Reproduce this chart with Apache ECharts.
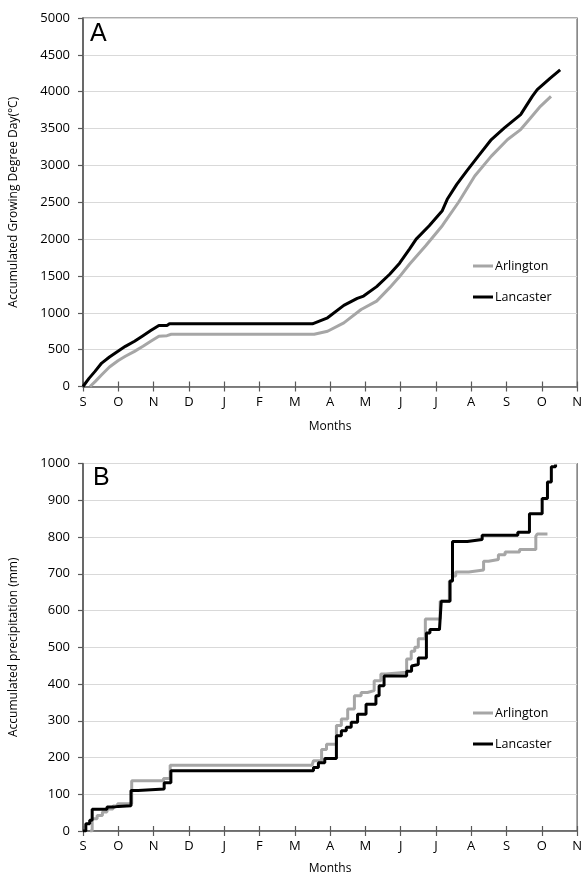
<!DOCTYPE html>
<html>
<head>
<meta charset="utf-8">
<script src="https://cdn.jsdelivr.net/npm/echarts@6/dist/echarts.min.js"></script>
<style>
html,body{margin:0;padding:0;background:#fff;}
#chart{width:585px;height:876px;}
</style>
</head>
<body>
<div id="chart"></div>
<script>
// Month tick labels (Sept .. Nov of following year), x values are months since Sept 1
const monthLabels = ['S','O','N','D','J','F','M','A','M','J','J','A','S','O','N'];

// Panel A: accumulated growing degree day (°C) [month, value]
const gddArlington = [
  [0.20,0],[0.35,70],[0.53,159],[0.75,265],[0.99,350],[1.2,410],[1.46,477],[1.7,545],[1.92,614],
  [2.15,682],[2.38,690],[2.5,709],[6.55,709],[6.93,750],[7.39,864],[7.88,1045],[8.32,1159],
  [8.69,1341],[8.97,1491],[9.25,1659],[9.71,1909],[10.18,2182],[10.64,2500],[11.1,2856],
  [11.57,3126],[12.03,3351],[12.4,3486],[12.68,3644],[12.96,3802],[13.26,3937]
];
const gddLancaster = [
  [0,0],[0.17,110],[0.34,205],[0.53,318],[0.75,400],[0.99,477],[1.2,545],[1.46,614],[1.7,690],
  [1.92,759],[2.15,827],[2.38,827],[2.45,850],[6.5,850],[6.93,932],[7.39,1100],[7.77,1195],
  [7.95,1227],[8.32,1355],[8.69,1523],[8.97,1673],[9.25,1864],[9.44,2000],[9.81,2182],
  [10.18,2386],[10.32,2540],[10.59,2743],[10.87,2923],[11.2,3126],[11.57,3351],[11.94,3509],
  [12.4,3689],[12.73,3937],[12.87,4027],[13.24,4185],[13.52,4297]
];

// Panel B: accumulated precipitation (mm), step points [month, value after jump]
const precipArlington = [
  [0.20,0],[0.26,33],[0.4,42],[0.55,52],[0.68,60],[0.85,68],[0.98,74],[1.38,137],[2.28,143],[2.47,179],
  [6.49,178],[6.53,191],[6.76,222],[6.9,236],[7.18,287],[7.32,305],[7.5,332],[7.69,368],[7.88,377],
  [8.06,382],[8.25,409],[8.44,427],[8.58,432],[9.17,468],[9.3,489],[9.4,500],[9.5,523],[9.7,577],
  [10.12,625],[10.38,680],[10.47,694],[10.56,705],[10.93,710],[11.35,734],[11.49,739],[11.77,752],
  [11.96,759],[12.37,766],[12.83,802],[12.87,808],[13.16,808]
];
const precipLancaster = [
  [0,0],[0.08,20],[0.19,29],[0.26,59],[0.68,65],[0.87,67],[1.0,69],[1.36,110],[1.56,114],[2.3,131],
  [2.49,164],[6.53,173],[6.67,186],[6.85,197],[7.18,259],[7.32,273],[7.46,282],[7.6,296],[7.78,318],
  [8.02,345],[8.3,368],[8.39,395],[8.53,422],[9.17,435],[9.31,449],[9.36,453],[9.5,471],[9.73,539],
  [9.83,548],[10.1,553],[10.15,625],[10.4,680],[10.47,788],[10.89,793],[11.31,805],[12.32,813],
  [12.65,863],[13.01,905],[13.16,950],[13.27,991],[13.39,997]
];

const FONT = 'Open Sans';
const GRAY = '#a6a6a6';
const BLACK = '#000000';
const AXIS = '#595959';

function xAxes(gridIndex, nameGap) {
  return [
    {
      gridIndex, type:'value', min:0, max:14, interval:1, position:'bottom',
      name:'Months', nameLocation:'middle', nameGap,
      nameTextStyle:{fontFamily:FONT, fontSize:12, color:'#000'},
      axisLine:{lineStyle:{color:AXIS, width:1.5}},
      axisTick:{show:true, inside:false, length:5, lineStyle:{color:AXIS, width:1.2}},
      axisLabel:{fontFamily:FONT, fontSize:13, color:'#000', margin:9,
        formatter:(v)=>monthLabels[Math.round(v)] || ''},
      splitLine:{show:false}
    },
    {
      gridIndex, type:'value', min:0, max:14, interval:1, position:'bottom',
      axisLine:{show:false},
      axisTick:{show:true, inside:true, length:5, lineStyle:{color:AXIS, width:1.2}},
      axisLabel:{show:false}, splitLine:{show:false}
    }
  ];
}

function yAxis(gridIndex, max, interval, name) {
  return {
    gridIndex, type:'value', min:0, max, interval,
    name, nameLocation:'middle', nameGap:63,
    nameTextStyle:{fontFamily:FONT, fontSize:12, color:'#000'},
    axisLine:{show:true, lineStyle:{color:AXIS, width:1.5}},
    axisTick:{show:true, length:5, lineStyle:{color:AXIS, width:1.2}},
    axisLabel:{fontFamily:FONT, fontSize:13, color:'#000', margin:13, formatter:(v)=>String(v)},
    splitLine:{show:true, lineStyle:{color:'#d9d9d9', width:1.2}}
  };
}

function lineSeries(name, data, color, xi, yi, step) {
  const s = {
    name, type:'line', data, xAxisIndex:xi, yAxisIndex:yi,
    showSymbol:false, symbol:'none', animation:false,
    lineStyle:{color, width:3}, itemStyle:{color}
  };
  if (step) s.step = 'end';
  return s;
}

function legend(top) {
  return {
    left:468, top, orient:'vertical', icon:'rect', itemWidth:20, itemHeight:3,
    itemGap:15, selectedMode:false,
    textStyle:{fontFamily:FONT, fontSize:12.5, color:'#000', lineHeight:16, padding:[0,0,0,-3]},
    data:['Arlington','Lancaster']
  };
}

const chart = echarts.init(document.getElementById('chart'), null, {renderer:'canvas'});
chart.setOption({
  animation:false,
  backgroundColor:'#fff',
  grid:[
    {left:81, top:18, width:503, height:368.5, show:true, borderColor:AXIS, borderWidth:1.2},
    {left:81, top:463.5, width:503, height:369, show:true, borderColor:AXIS, borderWidth:1.2}
  ],
  legend:[legend(253), legend(700)],
  xAxis:[...xAxes(0, 34), ...xAxes(1, 32)],
  yAxis:[
    yAxis(0, 5000, 500, 'Accumulated Growing Degree Day(°C)'),
    yAxis(1, 1000, 100, 'Accumulated precipitation (mm)')
  ],
  graphic:[
    {type:'text', left:90, top:22, style:{text:'A', font:'25px "Liberation Sans"', fill:'#000'}},
    {type:'text', left:93, top:466, style:{text:'B', font:'25px "Liberation Sans"', fill:'#000'}}
  ],
  series:[
    lineSeries('Arlington', gddArlington, GRAY, 0, 0, false),
    lineSeries('Lancaster', gddLancaster, BLACK, 0, 0, false),
    lineSeries('Arlington', precipArlington, GRAY, 2, 1, true),
    lineSeries('Lancaster', precipLancaster, BLACK, 2, 1, true)
  ]
});
</script>
</body>
</html>
